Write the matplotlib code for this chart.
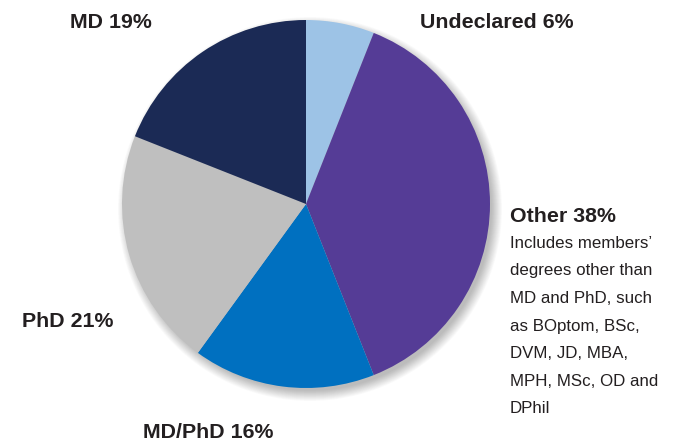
import matplotlib
matplotlib.use("Agg")
import matplotlib.pyplot as plt
from matplotlib.patches import Circle

categories = ["Undeclared", "Other", "MD/PhD", "PhD", "MD"]
shares = [6, 38, 16, 21, 19]
colors = ["#9DC3E6", "#553C96", "#0070C0", "#BFBFBF", "#1B2A55"]
other_note = ["Includes members\u2019", "degrees other than", "MD and PhD, such",
              "as BOptom, BSc,", "DVM, JD, MBA,", "MPH, MSc, OD and", "DPhil"]

W, H = 681, 446
fig = plt.figure(figsize=(W / 100, H / 100), dpi=100)
ax = fig.add_axes([0, 0, 1, 1])

cx, cy, r = 306, H - 204, 184

# soft shadow
for i in range(14):
    ax.add_patch(Circle((cx + 4, cy - 5), r + 8 - i * 0.8, color="black",
                        alpha=0.02, lw=0, zorder=0))

ax.pie(shares, colors=colors, startangle=90, counterclock=False,
       center=(cx, cy), radius=r, frame=True,
       wedgeprops=dict(linewidth=0))
ax.set_xlim(0, W)
ax.set_ylim(0, H)
ax.set_aspect("equal")
ax.axis("off")

fam = ["Liberation Sans", "DejaVu Sans"]
bold = dict(family=fam, fontweight="bold", fontsize=15.4, color="#231F20", va="baseline")
labels_pos = {"Undeclared": (420, 28), "MD": (70, 28), "Other": (510, 222),
              "PhD": (22, 327), "MD/PhD": (143, 438)}
for c, s in zip(categories, shares):
    x, y = labels_pos[c]
    ax.text(x, H - y, f"{c} {s}%", **bold)

for i, line in enumerate(other_note):
    ax.text(510, H - (248 + i * 27.5), line, family=fam, fontsize=12.2,
            color="#231F20", va="baseline")

fig.savefig("out.png", dpi=100)
